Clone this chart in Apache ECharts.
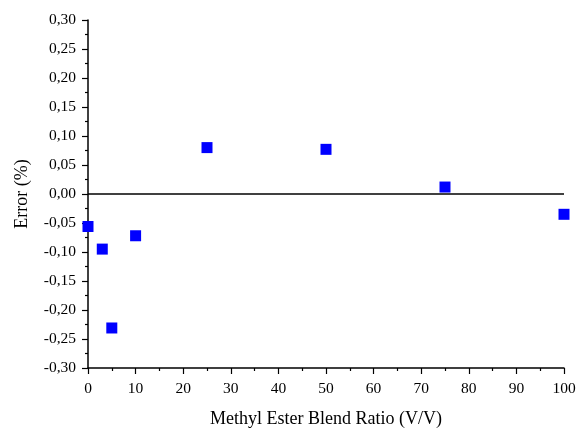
<!DOCTYPE html>
<html>
<head>
<meta charset="utf-8">
<script src="https://cdn.jsdelivr.net/npm/echarts@6/dist/echarts.min.js"></script>
<style>html,body{margin:0;padding:0;background:#fff}#c{width:582px;height:433px}</style>
</head>
<body>
<div id="c"></div>
<script>
var blendRatio = [0, 3, 5, 10, 25, 50, 75, 100];
var errorPct = [-0.056, -0.095, -0.231, -0.072, 0.080, 0.077, 0.012, -0.035];
var xTitle = 'Methyl Ester Blend Ratio (V/V)';
var yTitle = 'Error (%)';

var points = blendRatio.map(function (x, i) { return [x, errorPct[i]]; });
var font = 'Liberation Serif';
var chart = echarts.init(document.getElementById('c'), null, {renderer: 'canvas'});
chart.setOption({
  animation: false,
  backgroundColor: '#fff',
  grid: {left: 88, right: 18, top: 20, bottom: 59, containLabel: false},
  xAxis: {
    type: 'value', min: 0, max: 100, interval: 10,
    name: xTitle, nameLocation: 'middle', nameGap: 42,
    nameTextStyle: {fontFamily: font, fontSize: 18, color: '#000'},
    axisLine: {show: true, onZero: false, lineStyle: {color: '#000', width: 1.5}},
    axisTick: {show: true, inside: false, length: 6, lineStyle: {color: '#000', width: 1.2}},
    minorTick: {show: true, splitNumber: 2, length: 3, lineStyle: {color: '#000', width: 1.2}},
    axisLabel: {fontFamily: font, fontSize: 15.5, color: '#000', margin: 13},
    splitLine: {show: false}
  },
  yAxis: {
    type: 'value', min: -0.30, max: 0.30, interval: 0.05,
    name: yTitle, nameLocation: 'middle', nameGap: 57, nameRotate: 90,
    nameTextStyle: {fontFamily: font, fontSize: 18, color: '#000'},
    axisLine: {show: true, onZero: false, lineStyle: {color: '#000', width: 1.5}},
    axisTick: {show: true, inside: false, length: 6, lineStyle: {color: '#000', width: 1.2}},
    minorTick: {show: true, splitNumber: 2, length: 3, lineStyle: {color: '#000', width: 1.2}},
    axisLabel: {fontFamily: font, fontSize: 15.5, color: '#000', margin: 12,
      formatter: function (v) { return v.toFixed(2).replace('.', ','); }},
    splitLine: {show: false}
  },
  series: [{
    type: 'scatter',
    data: points,
    symbol: 'rect',
    symbolSize: 11,
    itemStyle: {color: '#0000ff', opacity: 1},
    markLine: {
      silent: true, symbol: ['none', 'none'],
      label: {show: false},
      lineStyle: {color: '#000', width: 1.5, type: 'solid'},
      data: [{yAxis: 0}]
    },
    z: 3
  }]
});
</script>
</body>
</html>
